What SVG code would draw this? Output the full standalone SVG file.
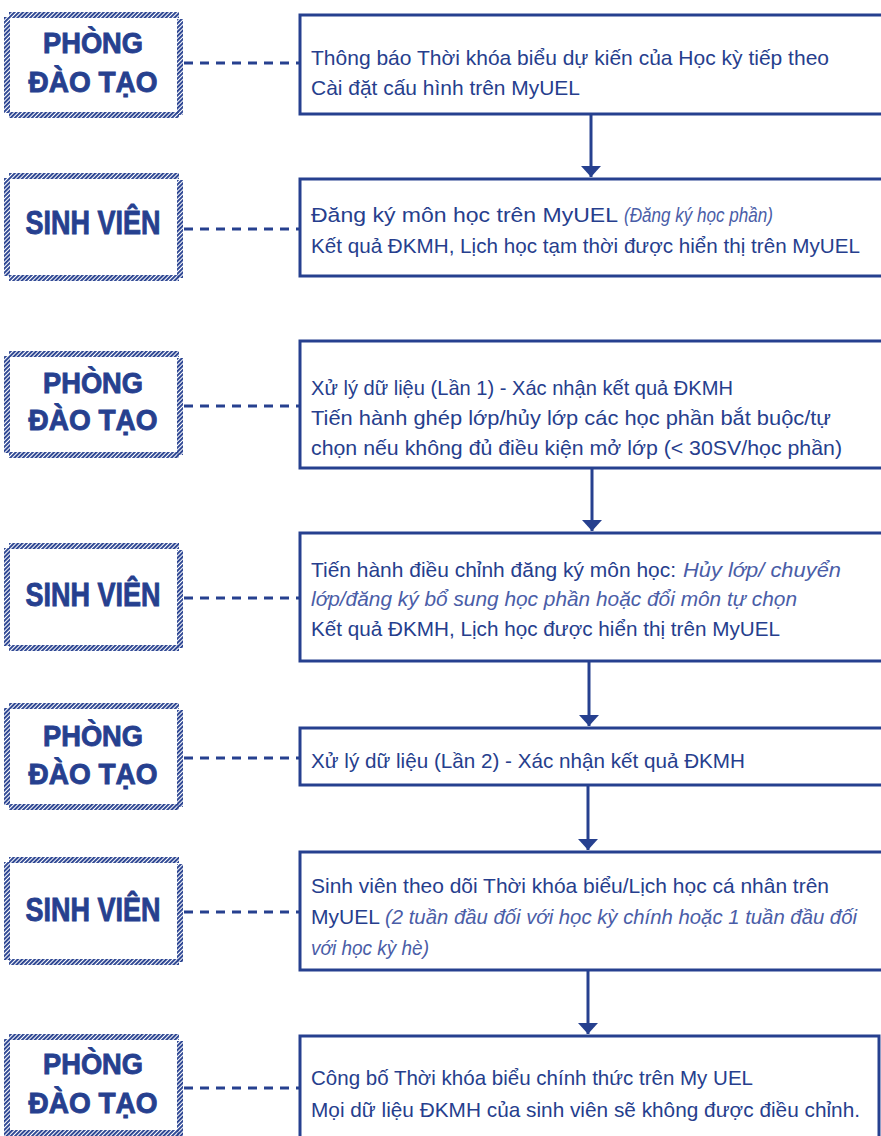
<svg xmlns="http://www.w3.org/2000/svg" width="881" height="1136" viewBox="0 0 881 1136">
<defs>
<pattern id="hatch" width="3" height="3" patternUnits="userSpaceOnUse" patternTransform="rotate(45)"><rect width="1.9" height="3" fill="#26408F"/></pattern>
<marker id="arr" viewBox="0 0 11 20" refX="11" refY="10" markerWidth="11" markerHeight="20" markerUnits="userSpaceOnUse" orient="auto"><path d="M0,0 L11,10 L0,20 Z" fill="#26408F"/></marker>
</defs>
<style>
.hb{fill:url(#hatch)}
.lbl{font-family:"Liberation Sans",Arial,sans-serif;font-weight:bold;fill:#26408F;stroke:#26408F;stroke-width:0.9;text-anchor:middle}
.p{font-size:30px}
.s{font-size:34px}
.box{fill:none;stroke:#26408F;stroke-width:3}
.t{font-family:"Liberation Sans",Arial,sans-serif;font-size:21px;fill:#263E8D}
.i{font-style:italic;fill:#4A5DA7}
.dash{stroke:#26408F;stroke-width:2.8;stroke-dasharray:9 7;fill:none}
.ln{stroke:#26408F;stroke-width:3;fill:none}
</style>
<rect width="881" height="1136" fill="#fff"/>

<g id="lab1">
<rect class="hb" x="9" y="12" width="170" height="6"/><rect class="hb" x="9" y="112" width="170" height="6"/><rect class="hb" x="4" y="17" width="6" height="96"/><rect class="hb" x="177" y="19" width="6" height="96"/>
<text class="lbl p" x="93" y="53" textLength="100" lengthAdjust="spacingAndGlyphs">PHÒNG</text>
<text class="lbl p" x="93" y="92" textLength="129" lengthAdjust="spacingAndGlyphs">ĐÀO TẠO</text>
</g>
<g id="lab2">
<rect class="hb" x="9" y="173" width="170" height="6"/><rect class="hb" x="9" y="275" width="170" height="6"/><rect class="hb" x="4" y="178" width="6" height="98"/><rect class="hb" x="177" y="180" width="6" height="98"/>
<text class="lbl s" x="93" y="234" textLength="135" lengthAdjust="spacingAndGlyphs">SINH VIÊN</text>
</g>
<g id="lab3">
<rect class="hb" x="9" y="351" width="170" height="6"/><rect class="hb" x="9" y="452" width="170" height="6"/><rect class="hb" x="4" y="356" width="6" height="97"/><rect class="hb" x="177" y="358" width="6" height="97"/>
<text class="lbl p" x="93" y="393" textLength="100" lengthAdjust="spacingAndGlyphs">PHÒNG</text>
<text class="lbl p" x="93" y="430" textLength="129" lengthAdjust="spacingAndGlyphs">ĐÀO TẠO</text>
</g>
<g id="lab4">
<rect class="hb" x="9" y="543" width="170" height="6"/><rect class="hb" x="9" y="645" width="170" height="6"/><rect class="hb" x="4" y="548" width="6" height="98"/><rect class="hb" x="177" y="550" width="6" height="98"/>
<text class="lbl s" x="93" y="606" textLength="135" lengthAdjust="spacingAndGlyphs">SINH VIÊN</text>
</g>
<g id="lab5">
<rect class="hb" x="9" y="703" width="170" height="6"/><rect class="hb" x="9" y="804" width="170" height="6"/><rect class="hb" x="4" y="708" width="6" height="97"/><rect class="hb" x="177" y="710" width="6" height="97"/>
<text class="lbl p" x="93" y="746" textLength="100" lengthAdjust="spacingAndGlyphs">PHÒNG</text>
<text class="lbl p" x="93" y="784" textLength="129" lengthAdjust="spacingAndGlyphs">ĐÀO TẠO</text>
</g>
<g id="lab6">
<rect class="hb" x="9" y="857" width="170" height="6"/><rect class="hb" x="9" y="959" width="170" height="6"/><rect class="hb" x="4" y="862" width="6" height="98"/><rect class="hb" x="177" y="864" width="6" height="98"/>
<text class="lbl s" x="93" y="921" textLength="135" lengthAdjust="spacingAndGlyphs">SINH VIÊN</text>
</g>
<g id="lab7">
<rect class="hb" x="9" y="1034" width="170" height="6"/><rect class="hb" x="9" y="1130" width="170" height="6"/><rect class="hb" x="4" y="1039" width="6" height="97"/><rect class="hb" x="177" y="1041" width="6" height="95"/>
<text class="lbl p" x="93" y="1074" textLength="100" lengthAdjust="spacingAndGlyphs">PHÒNG</text>
<text class="lbl p" x="93" y="1113" textLength="129" lengthAdjust="spacingAndGlyphs">ĐÀO TẠO</text>
</g>

<g id="step1">
<rect class="box" x="300" y="15" width="590" height="99"/>
<text class="t" x="311" y="65" textLength="518" lengthAdjust="spacingAndGlyphs">Thông báo Thời khóa biểu dự kiến của Học kỳ tiếp theo</text>
<text class="t" x="311" y="95" textLength="269" lengthAdjust="spacingAndGlyphs">Cài đặt cấu hình trên MyUEL</text>
</g>
<g id="step2">
<rect class="box" x="300" y="179" width="590" height="97"/>
<text class="t" x="311" y="222" textLength="307" lengthAdjust="spacingAndGlyphs">Đăng ký môn học trên MyUEL</text>
<text class="t i" x="624" y="222" textLength="149" lengthAdjust="spacingAndGlyphs">(Đăng ký học phần)</text>
<text class="t" x="311" y="253" textLength="549" lengthAdjust="spacingAndGlyphs">Kết quả ĐKMH, Lịch học tạm thời được hiển thị trên MyUEL</text>
</g>
<g id="step3">
<rect class="box" x="300" y="341" width="590" height="127"/>
<text class="t" x="311" y="395" textLength="422" lengthAdjust="spacingAndGlyphs">Xử lý dữ liệu (Lần 1) - Xác nhận kết quả ĐKMH</text>
<text class="t" x="311" y="425" textLength="520" lengthAdjust="spacingAndGlyphs">Tiến hành ghép lớp/hủy lớp các học phần bắt buộc/tự</text>
<text class="t" x="311" y="455" textLength="531" lengthAdjust="spacingAndGlyphs">chọn nếu không đủ điều kiện mở lớp (&lt; 30SV/học phần)</text>
</g>
<g id="step4">
<rect class="box" x="300" y="533" width="590" height="128"/>
<text class="t" x="311" y="577" textLength="365" lengthAdjust="spacingAndGlyphs">Tiến hành điều chỉnh đăng ký môn học:</text>
<text class="t i" x="683" y="577" textLength="158" lengthAdjust="spacingAndGlyphs">Hủy lớp/ chuyển</text>
<text class="t i" x="311" y="606" textLength="486" lengthAdjust="spacingAndGlyphs">lớp/đăng ký bổ sung học phần hoặc đổi môn tự chọn</text>
<text class="t" x="311" y="636" textLength="469" lengthAdjust="spacingAndGlyphs">Kết quả ĐKMH, Lịch học được hiển thị trên MyUEL</text>
</g>
<g id="step5">
<rect class="box" x="300" y="728" width="590" height="57"/>
<text class="t" x="311" y="768" textLength="434" lengthAdjust="spacingAndGlyphs">Xử lý dữ liệu (Lần 2) - Xác nhận kết quả ĐKMH</text>
</g>
<g id="step6">
<rect class="box" x="300" y="852" width="590" height="118"/>
<text class="t" x="311" y="893" textLength="518" lengthAdjust="spacingAndGlyphs">Sinh viên theo dõi Thời khóa biểu/Lịch học cá nhân trên</text>
<text class="t" x="311" y="924" textLength="69" lengthAdjust="spacingAndGlyphs">MyUEL</text>
<text class="t i" x="385" y="924" textLength="472" lengthAdjust="spacingAndGlyphs">(2 tuần đầu đối với học kỳ chính hoặc 1 tuần đầu đối</text>
<text class="t i" x="311" y="955" textLength="118" lengthAdjust="spacingAndGlyphs">với học kỳ hè)</text>
</g>
<g id="step7">
<rect class="box" x="300" y="1036" width="579" height="120"/>
<text class="t" x="311" y="1085" textLength="442" lengthAdjust="spacingAndGlyphs">Công bố Thời khóa biểu chính thức trên My UEL</text>
<text class="t" x="311" y="1117" textLength="549" lengthAdjust="spacingAndGlyphs">Mọi dữ liệu ĐKMH của sinh viên sẽ không được điều chỉnh.</text>
</g>

<g id="connectors">
<line class="dash" x1="184" y1="63" x2="300" y2="63"/>
<line class="dash" x1="184" y1="229" x2="300" y2="229"/>
<line class="dash" x1="184" y1="406" x2="300" y2="406"/>
<line class="dash" x1="184" y1="598" x2="300" y2="598"/>
<line class="dash" x1="184" y1="758" x2="300" y2="758"/>
<line class="dash" x1="184" y1="912" x2="300" y2="912"/>
<line class="dash" x1="184" y1="1088" x2="300" y2="1088"/>
<line class="ln" x1="591" y1="114" x2="591" y2="177" marker-end="url(#arr)"/>
<line class="ln" x1="592" y1="468" x2="592" y2="531" marker-end="url(#arr)"/>
<line class="ln" x1="589" y1="661" x2="589" y2="726" marker-end="url(#arr)"/>
<line class="ln" x1="588" y1="785" x2="588" y2="850" marker-end="url(#arr)"/>
<line class="ln" x1="588" y1="970" x2="588" y2="1034" marker-end="url(#arr)"/>
</g>
</svg>
